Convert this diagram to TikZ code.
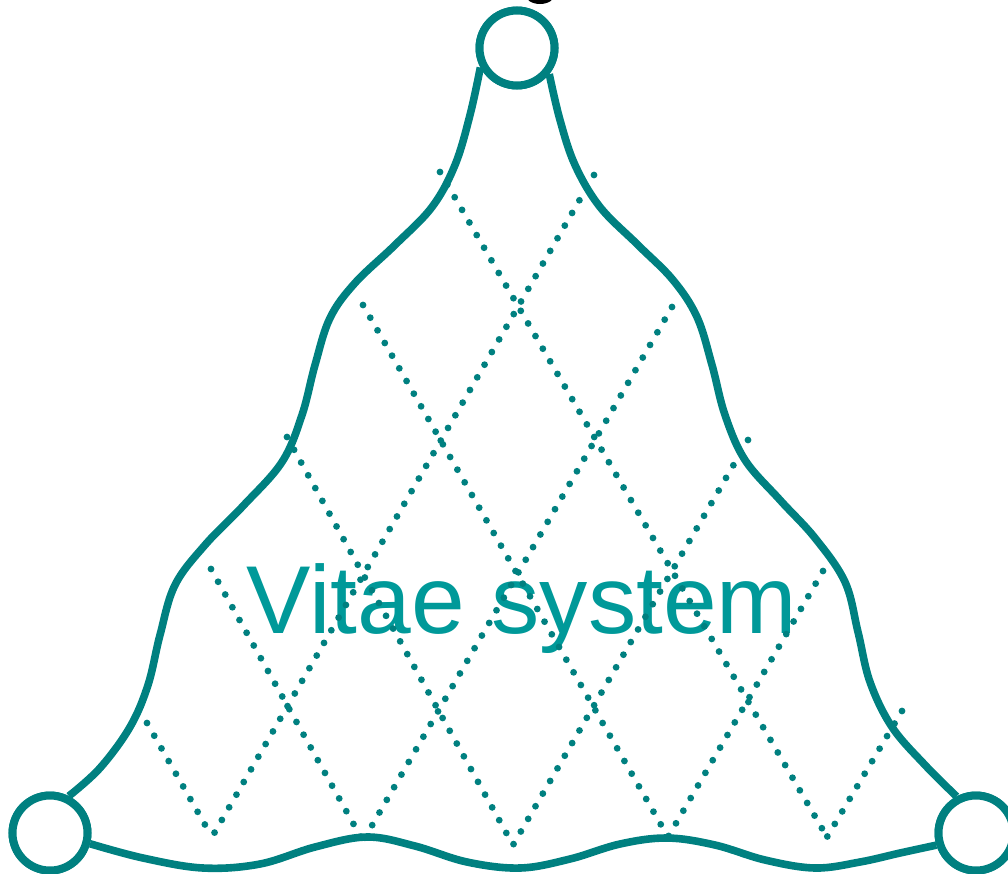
\documentclass[tikz,border=0pt]{standalone}
\usepackage{fontspec}
\setmainfont{Liberation Sans}
\definecolor{tealline}{HTML}{008080}
\definecolor{tealtext}{HTML}{009999}
\tikzset{
  vertex/.style={circle, draw=tealline, fill=white, line width=8pt, minimum size=75pt, inner sep=0pt},
  wave/.style={draw=tealline, line width=7.6pt},
  dotline/.style={draw=tealline, line width=6.8pt, line cap=round, dash pattern=on 0pt off 14.6pt},
}
\begin{document}
\begin{tikzpicture}[x=1pt, y=-1pt]
\useasboundingbox (0,0) rectangle (1008,873);
% partially visible black mark at the top
\fill[black] (540,-6) ellipse [x radius=15, y radius=10];
% nodes
\node[vertex] (top) at (517,48) {};
\node[vertex] (bl) at (50,833) {};
\node[vertex] (br) at (976,833) {};
% label
\node[text=tealtext, font=\fontsize{96.5}{100}\selectfont, anchor=base, inner sep=0pt] (lbl) at (522,633) {Vitae system};
% lattice coordinates
\coordinate (L1) at (440,172);
\coordinate (L2) at (363,305);
\coordinate (L3) at (287,437);
\coordinate (L4) at (211,569);
\coordinate (L5) at (147,723);
\coordinate (R1) at (594,175);
\coordinate (R2) at (672,307);
\coordinate (R3) at (748,440);
\coordinate (R4) at (823,571);
\coordinate (R5) at (902,711);
\coordinate (B1) at (212,837);
\coordinate (B2) at (363,841);
\coordinate (B3) at (513,845);
\coordinate (B4) at (668,837);
\coordinate (B5) at (827,837);
\draw[dotline] (L1) -- (B5);
\draw[dotline] (L2) -- (B4);
\draw[dotline] (L3) -- (B3);
\draw[dotline] (L4) -- (B2);
\draw[dotline] (L5) -- (B1);
\draw[dotline] (R1) -- (B1);
\draw[dotline] (R2) -- (B2);
\draw[dotline] (R3) -- (B3);
\draw[dotline] (R4) -- (B4);
\draw[dotline] (R5) -- (B5);
% wavy edges
\draw[wave] plot[smooth, tension=0.6] coordinates {(top.208) (470,115) (455,165) (432,207) (395,245) (355,283) (330,318) (315,365) (302,415) (282,462) (243,506) (205,545) (175,585) (160,635) (148,685) (130,727) (100,768) (bl.63)};
\draw[wave] plot[smooth, tension=0.6] coordinates {(top.321) (560,120) (575,165) (600,207) (638,245) (673,280) (697,317) (712,365) (725,415) (745,460) (780,500) (815,538) (845,582) (858,632) (870,682) (892,727) (925,765) (br.118)};
\draw[wave] plot[smooth, tension=0.6] coordinates {(bl.345) (143,858) (203,868) (260,864) (315,847) (367,837) (415,846) (467,862) (520,868) (570,859) (620,844) (667,838) (715,845) (765,860) (815,868) (860,862) (900,853) (br.197)};
% redraw circles on top
\node[vertex] at (top) {};
\node[vertex] at (bl) {};
\node[vertex] at (br) {};
\end{tikzpicture}
\end{document}
